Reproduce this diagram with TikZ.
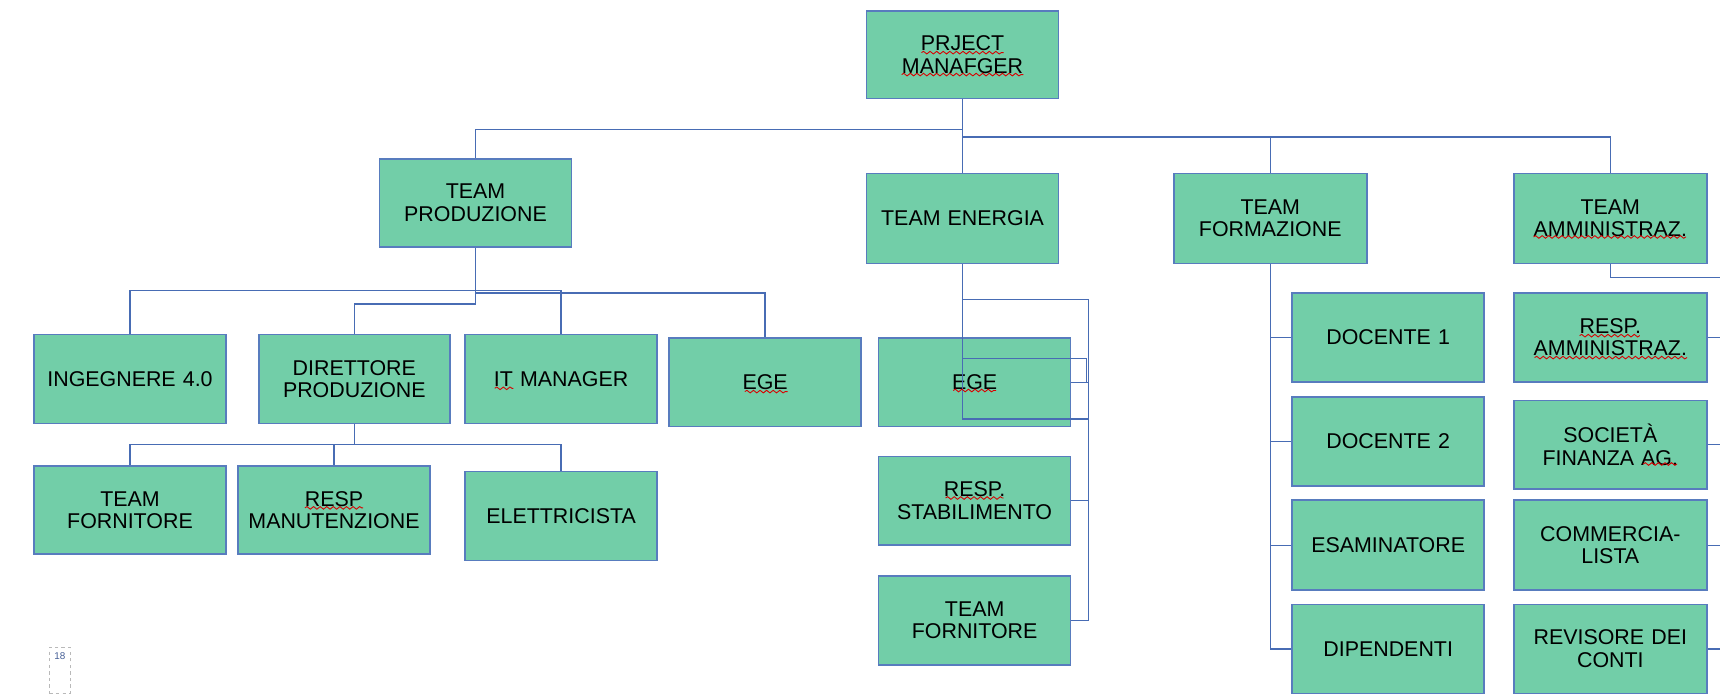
\documentclass[tikz,border=0pt]{standalone}
\usepackage{fontspec}
\setmainfont{Liberation Sans}
\usetikzlibrary{decorations.pathmorphing}
\definecolor{boxgreen}{RGB}{114,206,168}
\definecolor{boxblue}{RGB}{88,124,190}
\definecolor{lineblue}{RGB}{72,108,180}
\definecolor{pagegray}{RGB}{185,185,185}
\definecolor{pageblue}{RGB}{70,95,150}
\tikzset{
  box/.style={draw=boxblue, fill=boxgreen, line width=1.4pt, minimum width=175pt, minimum height=81pt,
    inner sep=0pt, align=center, text width=170pt, font=\fontsize{19.5}{20.5}\selectfont, text=black},
  conn/.style={draw=lineblue, line width=1.2pt},
  wave/.style={draw=red!85!black, line width=0.8pt, decorate, decoration={snake, amplitude=1.2pt, segment length=6pt}},
  pagebox/.style={draw=pagegray, dashed, line width=0.9pt, minimum width=19pt, minimum height=42pt, inner sep=0pt},
  pagenum/.style={text=pageblue, font=\fontsize{9}{10}\selectfont, inner sep=0pt}
}
\begin{document}
\begin{tikzpicture}[x=1pt, y=-1pt]
\useasboundingbox (0,0) rectangle (1568,634);
\fill[white] (0,0) rectangle (1568,634);
% level 0
\node[box, minimum height=80pt] (pm) at (877.5,50) {PRJECT\\MANAFGER};
% level 1
\node[box, minimum height=80pt] (tprod) at (433.5,185) {TEAM\\PRODUZIONE};
\node[box, minimum height=82pt] (tene) at (877.5,199) {TEAM ENERGIA};
\node[box, minimum height=82pt, minimum width=176pt] (tform) at (1158,199) {TEAM\\FORMAZIONE};
\node[box, minimum height=82pt, minimum width=176pt] (tamm) at (1468,199) {TEAM\\AMMINISTRAZ.};
% production
\node[box] (ing) at (118.5,345.5) {INGEGNERE 4.0};
\node[box, minimum width=174pt] (dir) at (323,345.5) {DIRETTORE\\PRODUZIONE};
\node[box] (itm) at (511.5,345.5) {IT MANAGER};
\node[box] (egep) at (697.5,348.5) {EGE};
\node[box, minimum height=80pt] (tforn) at (118.5,465) {TEAM\\FORNITORE};
\node[box, minimum height=80pt] (resp) at (304.5,465) {RESP\\MANUTENZIONE};
\node[box] (elet) at (511.5,470.5) {ELETTRICISTA};
% energy
\node[box] (egee) at (888.5,348.5) {EGE};
\node[box] (rstab) at (888.5,456.5) {RESP.\\STABILIMENTO};
\node[box] (tfe) at (888.5,565.5) {TEAM\\FORNITORE};
% formazione
\node[box] (doc1) at (1265.5,307.5) {DOCENTE 1};
\node[box] (doc2) at (1265.5,402.5) {DOCENTE 2};
\node[box, minimum height=82pt] (esam) at (1265.5,497) {ESAMINATORE};
\node[box] (dip) at (1265.5,591.5) {DIPENDENTI};
% amministrazione
\node[box, minimum width=176pt] (ramm) at (1468,307.5) {RESP.\\AMMINISTRAZ.};
\node[box, minimum width=176pt] (soc) at (1468,405.5) {SOCIETÀ\\FINANZA AG.};
\node[box, minimum width=176pt, minimum height=82pt] (comm) at (1468,497) {COMMERCIA-\\LISTA};
\node[box, minimum width=176pt] (rev) at (1468,591.5) {REVISORE DEI\\CONTI};
% page marker
\node[pagebox] (pg) at (54.5,611) {};
\node[pagenum] (pgn) at (54.5,598) {18};
% helper coordinates
\coordinate (eb) at (992,0);
\coordinate (re) at (1568,0);
% connectors from project manager
\draw[conn] (pm.south) -- (tene.north);
\draw[conn] (pm.south |- 0,118) -| (tprod.north);
\draw[conn] (pm.south |- 0,125) -| (tform.north);
\draw[conn] (pm.south |- 0,125) -| (tamm.north);
% production connectors
\draw[conn] (tprod.south) -- (tprod.south |- 0,277) -| (dir.north);
\draw[conn] (tprod.south |- 0,265) -| (ing.north);
\draw[conn] (tprod.south |- 0,265) -| (itm.north);
\draw[conn] (tprod.south |- 0,267) -| (egep.north);
\draw[conn] (dir.south) -- (dir.south |- 0,405);
\draw[conn] (dir.south |- 0,405) -| (tforn.north);
\draw[conn] (dir.south |- 0,405) -| (resp.north);
\draw[conn] (dir.south |- 0,405) -| (elet.north);
% energy connectors
\draw[conn] (tene.south) -- (tene.south |- 0,382) -- (eb |- 0,382);
\draw[conn] (tene.south |- 0,273) -| (eb |- tfe.east) -- (tfe.east);
\draw[conn] (tene.south |- 0,327) -- ([xshift=-1.5pt]eb |- 0,327) -- ([xshift=-1.5pt]eb |- egee.east);
\draw[conn] (egee.east) -- (eb |- egee.east);
\draw[conn] (rstab.east) -- (eb |- rstab.east);
% formazione connectors
\draw[conn] (tform.south) -- (tform.south |- dip.west) -- (dip.west);
\draw[conn] (tform.south |- doc1.west) -- (doc1.west);
\draw[conn] (tform.south |- doc2.west) -- (doc2.west);
\draw[conn] (tform.south |- esam.west) -- (esam.west);
% amministrazione connectors
\draw[conn] (tamm.south) -- (tamm.south |- 0,253) -- (re |- 0,253);
\draw[conn] (ramm.east) -- (re |- ramm.east);
\draw[conn] (soc.east) -- (re |- soc.east);
\draw[conn] (comm.east) -- (re |- comm.east);
\draw[conn] (rev.east) -- (re |- rev.east);
% spell-check wavy underlines
\draw[wave] (840,48) -- (915,48);
\draw[wave] (822,68) -- (933,68);
\draw[wave] (1398,216) -- (1537,216);
\draw[wave] (679,357) -- (718,357);
\draw[wave] (451,354) -- (468,354);
\draw[wave] (278,463) -- (331,463);
\draw[wave] (869,356) -- (908,356);
\draw[wave] (862,454) -- (915,454);
\draw[wave] (1440,306) -- (1495,306);
\draw[wave] (1399,326) -- (1538,326);
\draw[wave] (1498,423) -- (1529,423);
\end{tikzpicture}
\end{document}
